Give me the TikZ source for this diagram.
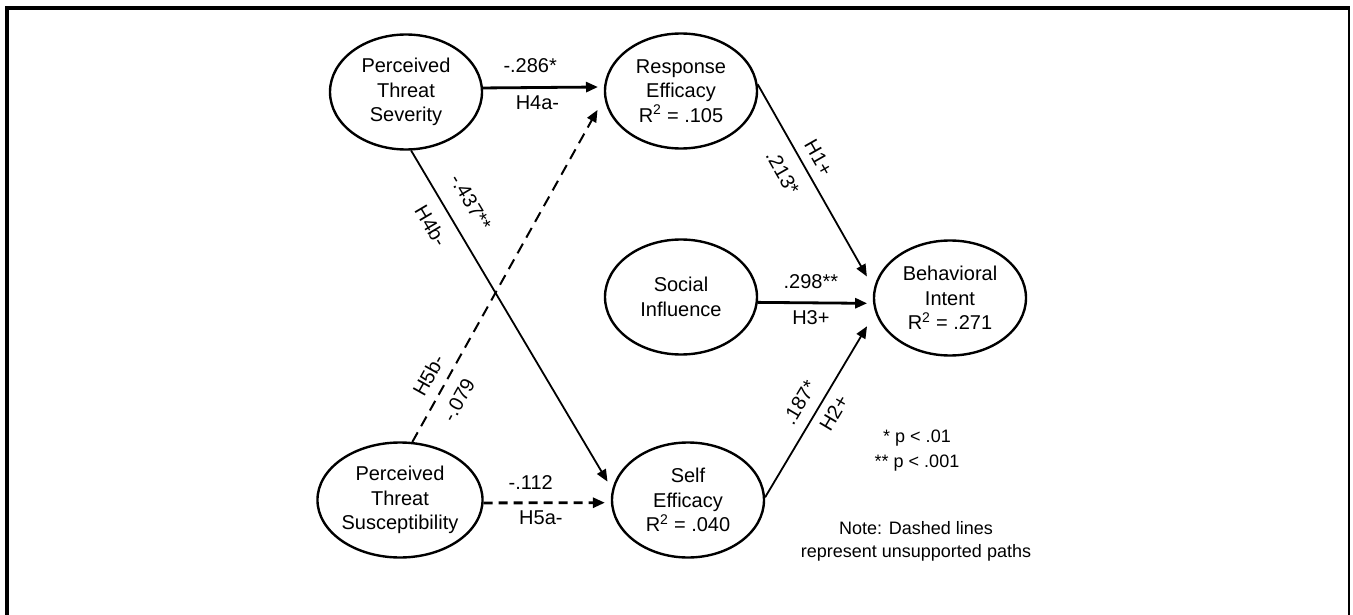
\documentclass[tikz,border=0pt]{standalone}
\usepackage{fontspec}
\setmainfont{Liberation Sans}
\usetikzlibrary{shapes.geometric,arrows.meta}

\begin{document}
\begin{tikzpicture}
  [x=1pt,y=-1pt,>={Triangle[length=12pt,width=10pt]}]
      \tikzstyle{factor_style} = [draw=black, ellipse, line width=2.4pt, minimum width=152pt, minimum height=115pt, inner sep=0pt, align=center, font=\fontsize{20}{24.5}\selectfont]
      \tikzstyle{edge_style} = [draw=black, line width=1.8pt, ->]
      \tikzstyle{flat_style} = [draw=black, line width=2.8pt, ->]
      \tikzstyle{dash_style} = [draw=black, line width=2pt, dash pattern=on 11pt off 7pt, ->]
      \tikzstyle{flat_dash_style} = [draw=black, line width=2.8pt, dash pattern=on 9pt off 6pt, ->]
      \tikzstyle{weight_style} = [inner sep=0pt, font=\fontsize{20}{24}\selectfont]
      \tikzstyle{note_style} = [inner sep=0pt, align=center]
  \useasboundingbox (0,0) rectangle (1353,615);
  % frame, open at the bottom
  \draw[line width=4.5pt] (7,615) -- (7,8) -- (1350,8);
  \draw[line width=2pt] (1349,7) -- (1349,615);
  \node[factor_style] (pts) at (406,92) {Perceived\\Threat\\Severity};
  \node[factor_style] (re) at (681,91) {Response\\Efficacy\\R\textsuperscript{2} = .105};
  \node[factor_style] (si) at (681,297) {Social\\Influence};
  \node[factor_style] (bi) at (950,298) {Behavioral\\Intent\\R\textsuperscript{2} = .271};
  \node[factor_style] (ptsu) at (400,500) {Perceived\\Threat\\Susceptibility};
  \node[factor_style] (se) at (688,500) {Self\\Efficacy\\R\textsuperscript{2} = .040};
  \draw[flat_style, shorten >=6pt] (pts.3) -- node[weight_style, pos=.39, above=13pt] {-.286*} node[weight_style, pos=.45, below=7pt] {H4a-} (re.177);
  \draw[edge_style, shorten >=9pt] (pts.-85) -- node[weight_style, sloped, pos=.19, above=17pt] {-.437**} node[weight_style, sloped, pos=.19, below=13pt] {H4b-} (se.172);
  \draw[dash_style, shorten >=14pt] (ptsu.78) -- node[weight_style, sloped, pos=.167, above=10pt] {H5b-} node[weight_style, sloped, pos=.15, below=12pt] {-.079} (re.185);
  \draw[flat_dash_style, shorten >=6pt] (ptsu.-2) -- node[weight_style, pos=.37, above=12pt] {-.112} node[weight_style, pos=.45, below=7pt] {H5a-} (se.182);
  \draw[edge_style, shorten >=14pt] (re.5) -- node[weight_style, sloped, pos=.40, above=9pt] {H1+} node[weight_style, sloped, pos=.38, below=14pt] {.213*} (bi.173);
  \draw[flat_style, shorten >=6pt] (si.-4) -- node[weight_style, pos=.46, above=13pt] {.298**} node[weight_style, pos=.46, below=6pt] {H3+} (bi.184);
  \draw[edge_style, shorten >=16pt] (se.2) -- node[weight_style, sloped, pos=.46, above=11pt] {.187*} node[weight_style, sloped, pos=.50, below=8pt] {H2+} (bi.191);
  \node[note_style, font=\fontsize{18}{25}\selectfont] (sig) at (917,451) {* p < .01\\** p < .001};
  \node[note_style, font=\fontsize{18}{23}\selectfont] (note) at (916,541) {Note: Dashed lines\\represent unsupported paths};
\end{tikzpicture}
\end{document}
